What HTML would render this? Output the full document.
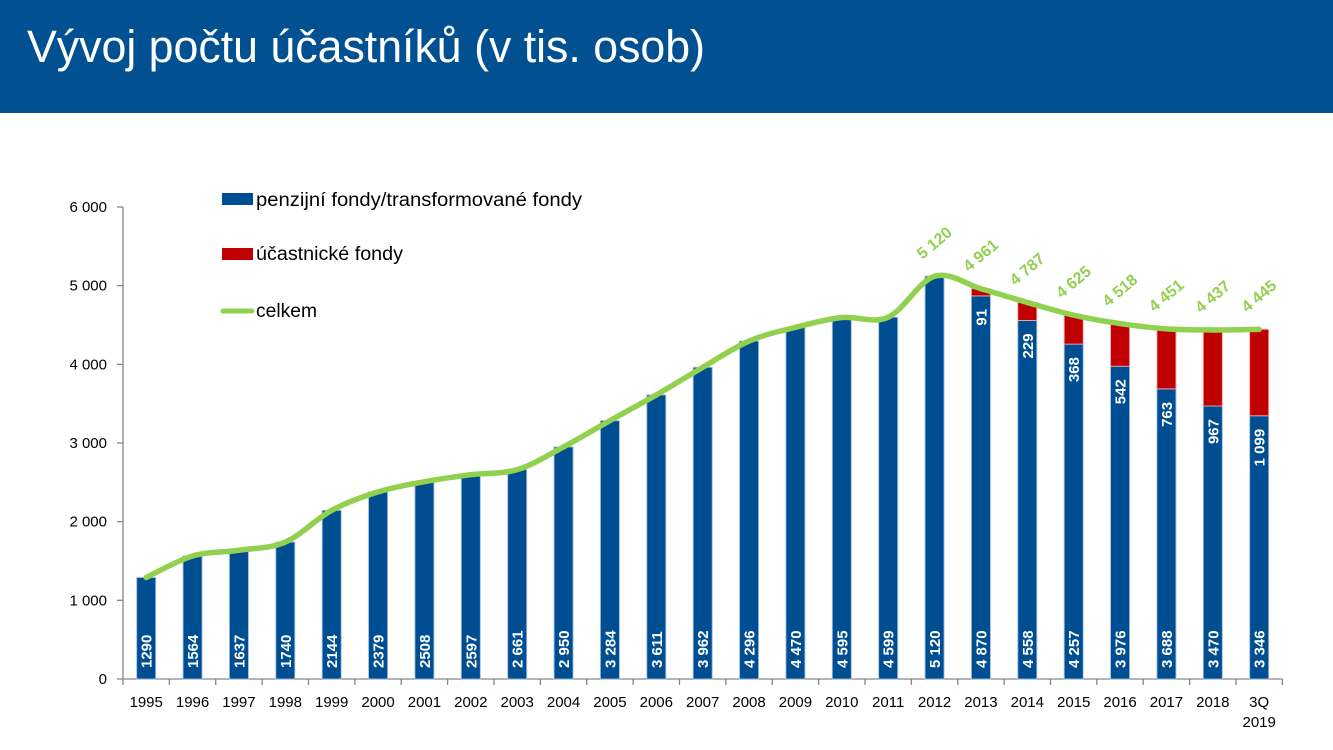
<!DOCTYPE html>
<html>
<head>
<meta charset="utf-8">
<style>
html,body{margin:0;padding:0;background:#fff;}
body{width:1333px;height:750px;overflow:hidden;position:relative;}
svg{position:absolute;left:0;top:0;}
</style>
</head>
<body>
<svg width="1333" height="750" viewBox="0 0 1333 750" xmlns="http://www.w3.org/2000/svg">
<rect x="0" y="0" width="1333" height="113" fill="#005092"/>
<text x="27" y="62" font-family="'Liberation Sans', sans-serif" font-size="45" fill="#ffffff" textLength="678" lengthAdjust="spacingAndGlyphs">Vývoj počtu účastníků (v tis. osob)</text>

<!-- axes -->
<g stroke="#868686" stroke-width="1.3" fill="none">
<line x1="123" y1="207" x2="123" y2="679"/>
<line x1="117" y1="679" x2="1282.4" y2="679"/>
<line x1="117" y1="600.33" x2="123" y2="600.33"/>
<line x1="117" y1="521.67" x2="123" y2="521.67"/>
<line x1="117" y1="443" x2="123" y2="443"/>
<line x1="117" y1="364.33" x2="123" y2="364.33"/>
<line x1="117" y1="285.67" x2="123" y2="285.67"/>
<line x1="117" y1="207" x2="123" y2="207"/>
<path d="M123,679V685M169.375,679V685M215.75,679V685M262.125,679V685M308.5,679V685M354.875,679V685M401.25,679V685M447.625,679V685M494,679V685M540.375,679V685M586.75,679V685M633.125,679V685M679.5,679V685M725.875,679V685M772.25,679V685M818.625,679V685M865,679V685M911.375,679V685M957.75,679V685M1004.125,679V685M1050.5,679V685M1096.875,679V685M1143.25,679V685M1189.625,679V685M1236,679V685M1282.375,679V685"/>
</g>

<g font-family="'Liberation Sans', sans-serif" font-size="15" fill="#000" text-anchor="end">
<text x="107" y="684">0</text>
<text x="107" y="605.3">1 000</text>
<text x="107" y="526.7">2 000</text>
<text x="107" y="448">3 000</text>
<text x="107" y="369.3">4 000</text>
<text x="107" y="290.7">5 000</text>
<text x="107" y="212">6 000</text>
</g>

<g font-family="'Liberation Sans', sans-serif" font-size="15" fill="#000" text-anchor="middle">
<text x="146.19" y="707">1995</text>
<text x="192.56" y="707">1996</text>
<text x="238.94" y="707">1997</text>
<text x="285.31" y="707">1998</text>
<text x="331.69" y="707">1999</text>
<text x="378.06" y="707">2000</text>
<text x="424.44" y="707">2001</text>
<text x="470.81" y="707">2002</text>
<text x="517.19" y="707">2003</text>
<text x="563.56" y="707">2004</text>
<text x="609.94" y="707">2005</text>
<text x="656.31" y="707">2006</text>
<text x="702.69" y="707">2007</text>
<text x="749.06" y="707">2008</text>
<text x="795.44" y="707">2009</text>
<text x="841.81" y="707">2010</text>
<text x="888.19" y="707">2011</text>
<text x="934.56" y="707">2012</text>
<text x="980.94" y="707">2013</text>
<text x="1027.31" y="707">2014</text>
<text x="1073.69" y="707">2015</text>
<text x="1120.06" y="707">2016</text>
<text x="1166.44" y="707">2017</text>
<text x="1212.81" y="707">2018</text>
<text x="1259.19" y="707">3Q</text>
<text x="1259.19" y="727">2019</text>
</g>

<!-- blue bars -->
<g fill="#004E92" stroke="#9FBCE0" stroke-width="0.9">
<rect x="136.69" y="577.52" width="19" height="101.48"/>
<rect x="183.06" y="555.97" width="19" height="123.03"/>
<rect x="229.44" y="550.22" width="19" height="128.78"/>
<rect x="275.81" y="542.12" width="19" height="136.88"/>
<rect x="322.19" y="510.34" width="19" height="168.66"/>
<rect x="368.56" y="491.85" width="19" height="187.15"/>
<rect x="414.94" y="481.70" width="19" height="197.30"/>
<rect x="461.31" y="474.70" width="19" height="204.30"/>
<rect x="507.69" y="469.67" width="19" height="209.33"/>
<rect x="554.06" y="446.93" width="19" height="232.07"/>
<rect x="600.44" y="420.66" width="19" height="258.34"/>
<rect x="646.81" y="394.93" width="19" height="284.07"/>
<rect x="693.19" y="367.32" width="19" height="311.68"/>
<rect x="739.56" y="341.05" width="19" height="337.95"/>
<rect x="785.94" y="327.36" width="19" height="351.64"/>
<rect x="832.31" y="317.53" width="19" height="361.47"/>
<rect x="878.69" y="317.21" width="19" height="361.79"/>
<rect x="925.06" y="276.23" width="19" height="402.77"/>
<rect x="971.44" y="295.89" width="19" height="383.11"/>
<rect x="1017.81" y="320.44" width="19" height="358.56"/>
<rect x="1064.19" y="344.12" width="19" height="334.88"/>
<rect x="1110.56" y="366.22" width="19" height="312.78"/>
<rect x="1156.94" y="388.88" width="19" height="290.12"/>
<rect x="1203.31" y="406.03" width="19" height="272.97"/>
<rect x="1249.69" y="415.78" width="19" height="263.22"/>
</g>
<!-- red bars -->
<g fill="#C00000" stroke="#F2A6A6" stroke-width="0.9">
<rect x="971.44" y="288.73" width="19" height="7.16"/>
<rect x="1017.81" y="302.42" width="19" height="18.02"/>
<rect x="1064.19" y="315.17" width="19" height="28.95"/>
<rect x="1110.56" y="323.59" width="19" height="42.63"/>
<rect x="1156.94" y="328.85" width="19" height="60.03"/>
<rect x="1203.31" y="329.95" width="19" height="76.08"/>
<rect x="1249.69" y="329.33" width="19" height="86.45"/>
</g>

<!-- total line -->
<path fill="none" stroke="#92D050" stroke-width="5.5" stroke-linecap="round" stroke-linejoin="round" d="M146.19,577.52 C153.92,573.93 177.10,560.52 192.56,555.97 C208.02,551.42 223.48,552.53 238.94,550.22 C254.40,547.91 269.85,548.77 285.31,542.12 C300.77,535.47 316.23,518.72 331.69,510.34 C347.15,501.96 362.60,496.62 378.06,491.85 C393.52,487.08 408.98,484.56 424.44,481.70 C439.90,478.84 455.35,476.71 470.81,474.70 C486.27,472.70 501.73,474.30 517.19,469.67 C532.65,465.04 548.10,455.10 563.56,446.93 C579.02,438.76 594.48,429.33 609.94,420.66 C625.40,411.99 640.85,403.82 656.31,394.93 C671.77,386.04 687.23,376.30 702.69,367.32 C718.15,358.34 733.60,347.71 749.06,341.05 C764.52,334.39 779.98,331.28 795.44,327.36 C810.90,323.44 826.35,319.22 841.81,317.53 C857.27,315.84 872.73,324.09 888.19,317.21 C903.65,310.33 919.10,280.98 934.56,276.23 C950.02,271.48 965.48,284.37 980.94,288.73 C996.40,293.10 1011.85,298.01 1027.31,302.42 C1042.77,306.83 1058.23,311.64 1073.69,315.17 C1089.15,318.70 1104.60,321.31 1120.06,323.59 C1135.52,325.87 1150.98,327.79 1166.44,328.85 C1181.90,329.91 1197.35,329.87 1212.81,329.95 C1228.27,330.03 1251.46,329.43 1259.19,329.33"/>

<!-- bottom bar labels -->
<g font-family="'Liberation Sans', sans-serif" font-size="15" font-weight="bold" fill="#ffffff" text-anchor="start">
<text transform="translate(151.69,668) rotate(-90)">1290</text>
<text transform="translate(198.06,668) rotate(-90)">1564</text>
<text transform="translate(244.44,668) rotate(-90)">1637</text>
<text transform="translate(290.81,668) rotate(-90)">1740</text>
<text transform="translate(337.19,668) rotate(-90)">2144</text>
<text transform="translate(383.56,668) rotate(-90)">2379</text>
<text transform="translate(429.94,668) rotate(-90)">2508</text>
<text transform="translate(476.31,668) rotate(-90)">2597</text>
<text transform="translate(522.69,668) rotate(-90)">2 661</text>
<text transform="translate(569.06,668) rotate(-90)">2 950</text>
<text transform="translate(615.44,668) rotate(-90)">3 284</text>
<text transform="translate(661.81,668) rotate(-90)">3 611</text>
<text transform="translate(708.19,668) rotate(-90)">3 962</text>
<text transform="translate(754.56,668) rotate(-90)">4 296</text>
<text transform="translate(800.94,668) rotate(-90)">4 470</text>
<text transform="translate(847.31,668) rotate(-90)">4 595</text>
<text transform="translate(893.69,668) rotate(-90)">4 599</text>
<text transform="translate(940.06,668) rotate(-90)">5 120</text>
<text transform="translate(986.44,668) rotate(-90)">4 870</text>
<text transform="translate(1032.81,668) rotate(-90)">4 558</text>
<text transform="translate(1079.19,668) rotate(-90)">4 257</text>
<text transform="translate(1125.56,668) rotate(-90)">3 976</text>
<text transform="translate(1171.94,668) rotate(-90)">3 688</text>
<text transform="translate(1218.31,668) rotate(-90)">3 470</text>
<text transform="translate(1264.69,668) rotate(-90)">3 346</text>
</g>
<!-- red segment labels -->
<g font-family="'Liberation Sans', sans-serif" font-size="15" font-weight="bold" fill="#ffffff" text-anchor="end">
<text transform="translate(986.44,308.89) rotate(-90)">91</text>
<text transform="translate(1032.81,333.44) rotate(-90)">229</text>
<text transform="translate(1079.19,357.12) rotate(-90)">368</text>
<text transform="translate(1125.56,379.22) rotate(-90)">542</text>
<text transform="translate(1171.94,401.88) rotate(-90)">763</text>
<text transform="translate(1218.31,419.03) rotate(-90)">967</text>
<text transform="translate(1264.69,428.78) rotate(-90)">1 099</text>
</g>
<!-- total labels -->
<g font-family="'Liberation Sans', sans-serif" font-size="16" font-weight="bold" fill="#92D050" text-anchor="middle">
<text transform="translate(934.56,243.23) rotate(-40)" y="5">5 120</text>
<text transform="translate(980.94,255.73) rotate(-40)" y="5">4 961</text>
<text transform="translate(1027.31,269.42) rotate(-40)" y="5">4 787</text>
<text transform="translate(1073.69,282.17) rotate(-40)" y="5">4 625</text>
<text transform="translate(1120.06,290.59) rotate(-40)" y="5">4 518</text>
<text transform="translate(1166.44,295.85) rotate(-40)" y="5">4 451</text>
<text transform="translate(1212.81,296.95) rotate(-40)" y="5">4 437</text>
<text transform="translate(1259.19,296.33) rotate(-40)" y="5">4 445</text>
</g>

<!-- legend -->
<rect x="222" y="193" width="31" height="12" fill="#004E92"/>
<rect x="222" y="248" width="31" height="12" fill="#C00000"/>
<line x1="223" y1="311" x2="252" y2="311" stroke="#92D050" stroke-width="5" stroke-linecap="round"/>
<g font-family="'Liberation Sans', sans-serif" font-size="19" fill="#000">
<text x="256" y="206" textLength="326" lengthAdjust="spacingAndGlyphs">penzijní fondy/transformované fondy</text>
<text x="256" y="260" textLength="147" lengthAdjust="spacingAndGlyphs">účastnické fondy</text>
<text x="256" y="317" textLength="61" lengthAdjust="spacingAndGlyphs">celkem</text>
</g>
</svg>
</body>
</html>
